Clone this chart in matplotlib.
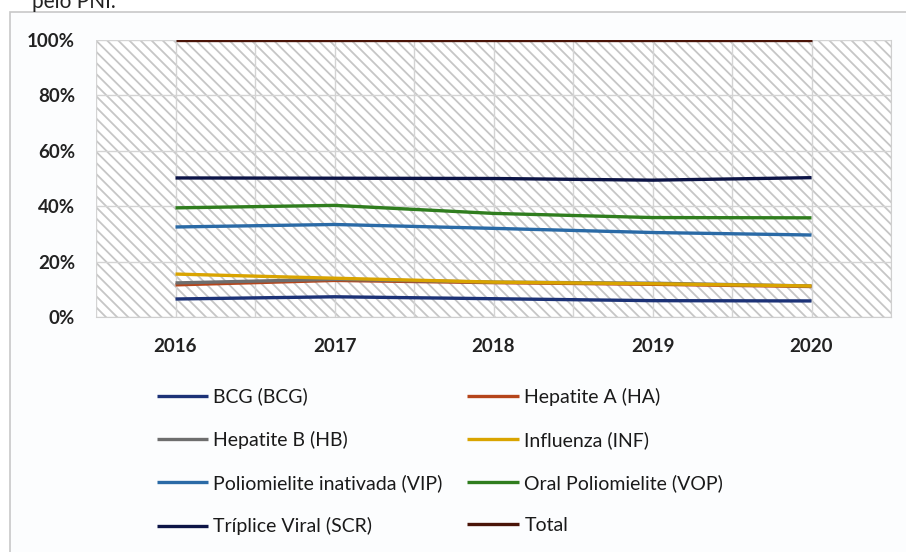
import matplotlib.pyplot as plt
from matplotlib.patches import Rectangle
from matplotlib.ticker import PercentFormatter, MultipleLocator

years = ["2016", "2017", "2018", "2019", "2020"]

bcg = [6.5, 7.3, 6.6, 5.9, 5.8]
hep_a = [11.6, 13.2, 12.4, 11.8, 11.0]
hep_b = [12.3, 13.6, 12.6, 12.2, 11.2]
influenza = [15.5, 14.0, 12.6, 12.0, 11.2]
vip = [32.5, 33.4, 32.0, 30.5, 29.6]
vop = [39.4, 40.3, 37.4, 35.9, 35.8]
scr = [50.2, 50.1, 50.0, 49.4, 50.3]
total = [100, 100, 100, 100, 100]

series = [
    ("BCG (BCG)", bcg, "#1c3277"),
    ("Hepatite A (HA)", hep_a, "#b5451b"),
    ("Hepatite B (HB)", hep_b, "#6e6e6e"),
    ("Influenza (INF)", influenza, "#d9a400"),
    ("Poliomielite inativada (VIP)", vip, "#2a6aa6"),
    ("Oral Poliomielite (VOP)", vop, "#2f7d1e"),
    ("Tríplice Viral (SCR)", scr, "#0c1446"),
    ("Total", total, "#4a1408"),
]

plt.rcParams['font.family'] = ['Lato', 'DejaVu Sans']
plt.rcParams['hatch.color'] = "#c6c6c6"
plt.rcParams['hatch.linewidth'] = 1.3

fig = plt.figure(figsize=(9.06, 5.52), dpi=100)
fig.patch.set_facecolor("white")

# outer chart frame (cropped screenshot)
frame = Rectangle((10 / 906, -0.05), 1.0, 1 - 12 / 552 + 0.05,
                  transform=fig.transFigure, fill=True, zorder=-5,
                  facecolor="#fcfdfe", edgecolor="#c8c8c8", lw=1.2)
fig.patches.append(frame)
fig.text(0.035, 1.0 + 0.014, "pelo PNI.", fontsize=15, ha="left", va="top",
         color="#222222")

ax = fig.add_axes([96 / 906, 1 - 317 / 552, (891 - 96) / 906, (317 - 40) / 552])
ax.set_facecolor("white")
ax.add_patch(Rectangle((0, 0), 1, 1, transform=ax.transAxes, facecolor="white",
                       edgecolor="#c6c6c6", hatch="\\\\\\", lw=0, zorder=0))

x = list(range(len(years)))
lines = {}
for name, vals, col in series:
    ln, = ax.plot(x, vals, color=col, lw=2.4, label=name, zorder=3,
                  solid_capstyle="butt")
    lines[name] = ln

ax.set_xlim(-0.5, 4.5)
ax.set_ylim(0, 100)
ax.yaxis.set_major_locator(MultipleLocator(20))
ax.yaxis.set_major_formatter(PercentFormatter(decimals=0))
ax.set_xticks(x)
ax.set_xticklabels(years)
ax.xaxis.set_minor_locator(MultipleLocator(0.5))
ax.grid(True, which="major", color="#d4d4d4", lw=1, zorder=1)
ax.grid(True, which="minor", axis="x", color="#d4d4d4", lw=1, zorder=1)
ax.set_axisbelow(False)
ax.tick_params(length=0, which="both")
ax.tick_params(axis="y", pad=15, labelsize=13.5)
ax.tick_params(axis="x", pad=15, labelsize=13.5)
for lab in ax.get_xticklabels() + ax.get_yticklabels():
    lab.set_fontweight("bold")
    lab.set_color("#222222")
for s in ax.spines.values():
    s.set_color("#cfcfcf")
ax.spines["top"].set_visible(False)
ax.spines["left"].set_visible(False)

order = ["BCG (BCG)", "Hepatite B (HB)", "Poliomielite inativada (VIP)",
         "Tríplice Viral (SCR)", "Hepatite A (HA)", "Influenza (INF)",
         "Oral Poliomielite (VOP)", "Total"]
leg = fig.legend([lines[n] for n in order], order, ncol=2,
                 loc="upper left", bbox_to_anchor=(139 / 906, 1 - 370 / 552),
                 frameon=False, fontsize=14, handlelength=2.67,
                 handletextpad=0.26, columnspacing=1.26, labelspacing=1.3)
for t in leg.get_texts():
    t.set_color("#1a1a1a")

fig.savefig("out.png", dpi=100)
